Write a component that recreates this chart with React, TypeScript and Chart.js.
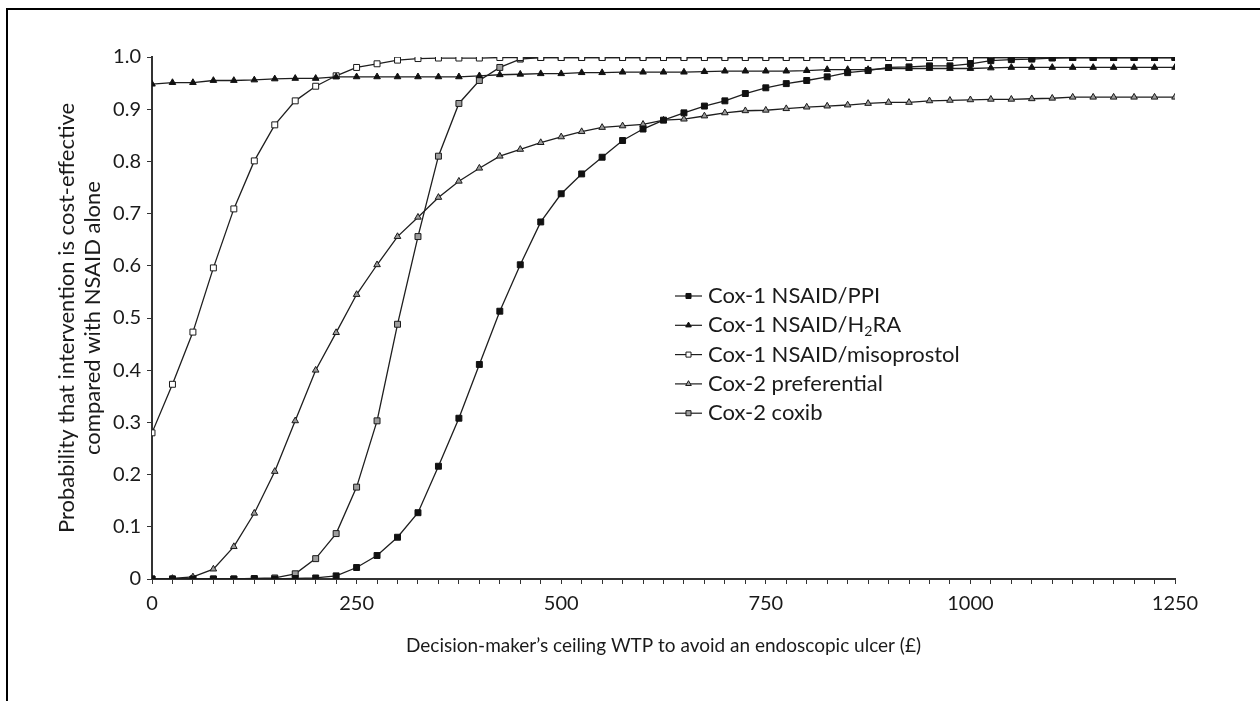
import { useEffect, useRef } from 'react';
import { Chart, registerables } from 'chart.js';

Chart.register(...registerables);

// ---------- data ----------
const xValues = [
  0, 25, 50, 75, 100, 125, 150, 175, 200, 225, 250, 275, 300, 325, 350, 375, 400,
  425, 450, 475, 500, 525, 550, 575, 600, 625, 650, 675, 700, 725, 750, 775, 800,
  825, 850, 875, 900, 925, 950, 975, 1000, 1025, 1050, 1075, 1100, 1125, 1150,
  1175, 1200, 1225, 1250,
];

const xTickLabels = ['0', '250', '500', '750', '1000', '1250'];
const yTickValues = [0, 0.1, 0.2, 0.3, 0.4, 0.5, 0.6, 0.7, 0.8, 0.9, 1.0];
const yTickLabels = ['0', '0.1', '0.2', '0.3', '0.4', '0.5', '0.6', '0.7', '0.8', '0.9', '1.0'];

const seriesNames = [
  'Cox-1 NSAID/PPI',
  'Cox-1 NSAID/H₂RA',
  'Cox-1 NSAID/misoprostol',
  'Cox-2 preferential',
  'Cox-2 coxib',
];

const ppi = [
  0, 0, 0, 0, 0, 0, 0, 0.001, 0.002, 0.006, 0.022, 0.045, 0.08, 0.127, 0.216, 0.308,
  0.411, 0.513, 0.602, 0.684, 0.738, 0.776, 0.808, 0.84, 0.862, 0.879, 0.893, 0.906,
  0.916, 0.93, 0.941, 0.949, 0.955, 0.962, 0.97, 0.974, 0.98, 0.981, 0.983, 0.983,
  0.987, 0.993, 0.995, 0.996, 0.998, 0.999, 0.999, 0.999, 0.999, 0.999, 0.999,
];

const h2ra = [
  0.948, 0.951, 0.951, 0.955, 0.955, 0.956, 0.958, 0.959, 0.959, 0.962, 0.962, 0.962,
  0.962, 0.962, 0.962, 0.962, 0.964, 0.966, 0.967, 0.968, 0.968, 0.97, 0.97, 0.971,
  0.971, 0.971, 0.971, 0.972, 0.973, 0.973, 0.973, 0.973, 0.974, 0.976, 0.976, 0.976,
  0.978, 0.978, 0.978, 0.978, 0.978, 0.979, 0.98, 0.98, 0.98, 0.98, 0.98, 0.98, 0.98,
  0.98, 0.98,
];

const misoprostol = [
  0.28, 0.373, 0.473, 0.596, 0.709, 0.801, 0.87, 0.916, 0.944, 0.964, 0.98, 0.987,
  0.994, 0.997, 0.998, 0.998, 0.998, 0.999, 0.999, 0.999, 0.999, 0.999, 0.999, 0.999,
  0.999, 0.999, 0.999, 0.999, 0.999, 0.999, 0.999, 0.999, 0.999, 0.999, 0.999, 0.999,
  0.999, 0.999, 0.999, 0.999, 0.999, 0.999, 0.999, 0.999, 0.999, 0.999, 0.999, 0.999,
  0.999, 0.999, 0.999,
];

const preferential = [
  0, 0.001, 0.004, 0.019, 0.062, 0.126, 0.206, 0.303, 0.4, 0.472, 0.545, 0.602, 0.656,
  0.693, 0.731, 0.762, 0.787, 0.81, 0.823, 0.836, 0.847, 0.857, 0.865, 0.868, 0.871,
  0.879, 0.881, 0.887, 0.893, 0.897, 0.898, 0.901, 0.904, 0.906, 0.908, 0.911, 0.913,
  0.913, 0.916, 0.917, 0.918, 0.919, 0.919, 0.92, 0.921, 0.923, 0.923, 0.923, 0.923,
  0.923, 0.923,
];

const coxib = [
  0, 0, 0, 0, 0, 0.001, 0.002, 0.01, 0.039, 0.087, 0.176, 0.303, 0.488, 0.656, 0.81,
  0.911, 0.955, 0.98, 0.996, 0.999, 0.999, 0.999, 0.999, 0.999, 0.999, 0.999, 0.999,
  0.999, 0.999, 0.999, 0.999, 0.999, 0.999, 0.999, 0.999, 0.999, 0.999, 0.999, 0.999,
  0.999, 0.999, 0.999, 0.999, 0.999, 0.999, 0.999, 0.999, 0.999, 0.999, 0.999, 0.999,
];

const xTitle = 'Decision-maker’s ceiling WTP to avoid an endoscopic ulcer (£)';
const yTitle = ['Probability that intervention is cost-effective', 'compared with NSAID alone'];

// ---------- styles ----------
const FONT = 'Lato, "Open Sans", sans-serif';
const LINE = '#1e1e1e';

const styles = [
  { shape: 'rect', fill: '#111111', stroke: '#111111', radius: 4.2 },
  { shape: 'triangle', fill: '#111111', stroke: '#111111', radius: 3.8 },
  { shape: 'rect', fill: '#ffffff', stroke: '#1a1a1a', radius: 4.2 },
  { shape: 'triangle', fill: '#9a9a9a', stroke: '#1a1a1a', radius: 3.8 },
  { shape: 'rect', fill: '#9d9d9d', stroke: '#1a1a1a', radius: 4.2 },
];

const seriesValues = [ppi, h2ra, misoprostol, preferential, coxib];

function drawMarker(ctx: CanvasRenderingContext2D, shape: string, x: number, y: number, r: number, fill: string, stroke: string) {
  ctx.beginPath();
  if (shape === 'rect') {
    const s = Math.SQRT1_2 * r;
    ctx.rect(x - s, y - s, 2 * s, 2 * s);
  } else {
    const w = r * Math.sin(Math.PI * 2 / 3);
    ctx.moveTo(x, y - r);
    ctx.lineTo(x + w, y + r / 2);
    ctx.lineTo(x - w, y + r / 2);
    ctx.closePath();
  }
  ctx.fillStyle = fill;
  ctx.fill();
  ctx.lineWidth = 1;
  ctx.strokeStyle = stroke;
  ctx.stroke();
}

const insideLegend = {
  id: 'insideLegend',
  afterDraw(chart: any) {
    const o = chart.options.plugins.insideLegend;
    const ctx: CanvasRenderingContext2D = chart.ctx;
    ctx.save();
    chart.data.datasets.forEach((ds: any, i: number) => {
      const y = o.top + i * o.rowHeight;
      ctx.strokeStyle = LINE;
      ctx.lineWidth = 1.2;
      ctx.beginPath();
      ctx.moveTo(o.left, y);
      ctx.lineTo(o.left + o.lineLength, y);
      ctx.stroke();
      const st = styles[i];
      drawMarker(ctx, st.shape, o.left + o.lineLength / 2, y, st.radius * 0.85, st.fill, st.stroke);
      ctx.fillStyle = '#1a1a1a';
      ctx.textBaseline = 'middle';
      ctx.textAlign = 'left';
      const label: string = ds.label;
      const parts = label.split('₂');
      let x = o.left + o.lineLength + o.gap;
      parts.forEach((p, k) => {
        ctx.font = `${o.fontSize}px ${FONT}`;
        ctx.fillText(p, x, y);
        x += ctx.measureText(p).width;
        if (k < parts.length - 1) {
          ctx.font = `${Math.round(o.fontSize * 0.65)}px ${FONT}`;
          ctx.fillText('2', x, y + o.fontSize * 0.3);
          x += ctx.measureText('2').width;
        }
      });
    });
    ctx.restore();
  },
};

const frame = {
  id: 'frame',
  beforeDraw(chart: any) {
    const ctx: CanvasRenderingContext2D = chart.ctx;
    ctx.save();
    ctx.fillStyle = '#ffffff';
    ctx.fillRect(0, 0, chart.width, chart.height);
    ctx.strokeStyle = '#000';
    ctx.lineWidth = 2;
    ctx.beginPath();
    ctx.moveTo(7, chart.height);
    ctx.lineTo(7, 9);
    ctx.lineTo(chart.width, 9);
    ctx.stroke();
    ctx.restore();
  },
};

export default function App() {
  const ref = useRef<HTMLCanvasElement>(null);

  useEffect(() => {
    if (!ref.current) return;
    const datasets = seriesValues.map((vals, i) => ({
      label: seriesNames[i],
      data: xValues.map((x, k) => ({ x, y: vals[k] })),
      borderColor: LINE,
      borderWidth: 1.3,
      pointStyle: styles[i].shape,
      pointRadius: styles[i].radius,
      pointBackgroundColor: styles[i].fill,
      pointBorderColor: styles[i].stroke,
      pointBorderWidth: 1,
      tension: 0,
      fill: false,
    }));

    const tickFont = { family: FONT, size: 20 };
    const chart = new Chart(ref.current, {
      type: 'line',
      data: { datasets },
      plugins: [frame, insideLegend],
      options: {
        animation: false,
        responsive: false,
        devicePixelRatio: 1,
        layout: { padding: { left: 0, right: 85, top: 57, bottom: 0 } },
        plugins: {
          legend: { display: false },
          tooltip: { enabled: false },
          insideLegend: { left: 675, top: 296, rowHeight: 29.3, lineLength: 27, gap: 6, fontSize: 22 },
        } as any,
        scales: {
          x: {
            type: 'linear',
            min: 0,
            max: 1250,
            afterFit: (s: any) => { s.height = 122; },
            afterBuildTicks: (s: any) => { s.ticks = xValues.map((v) => ({ value: v })); },
            ticks: {
              autoSkip: false,
              maxRotation: 0,
              padding: 8,
              color: '#1a1a1a',
              font: tickFont,
              callback: (v: any) => (xTickLabels.includes(String(v)) ? String(v) : ''),
            },
            grid: { drawOnChartArea: false, drawTicks: true, tickLength: 5, color: '#333', lineWidth: 1 },
            border: { display: true, color: '#333', width: 2 },
            title: {
              display: true,
              text: xTitle,
              color: '#1a1a1a',
              font: { family: FONT, size: 19 },
              padding: { top: 0, bottom: 44 },
            },
          },
          y: {
            type: 'linear',
            min: 0,
            max: 1,
            afterFit: (s: any) => { s.width = 152; },
            afterBuildTicks: (s: any) => { s.ticks = yTickValues.map((v) => ({ value: v })); },
            ticks: {
              autoSkip: false,
              padding: 6,
              color: '#1a1a1a',
              font: tickFont,
              callback: (_v: any, i: number) => yTickLabels[i],
            },
            grid: { drawOnChartArea: false, drawTicks: true, tickLength: 5, color: '#333', lineWidth: 1 },
            border: { display: true, color: '#333', width: 2 },
            title: {
              display: true,
              text: yTitle,
              color: '#1a1a1a',
              font: { family: FONT, size: 22, lineHeight: 26 / 22 },
              padding: { top: 54, bottom: 0 },
            },
          },
        },
      } as any,
    });
    return () => chart.destroy();
  }, []);

  return (
    <div style={{ position: 'fixed', left: 0, top: 0, width: 1260, height: 701 }}>
      <canvas ref={ref} width={1260} height={701} style={{ width: 1260, height: 701, display: 'block' }} />
    </div>
  );
}
